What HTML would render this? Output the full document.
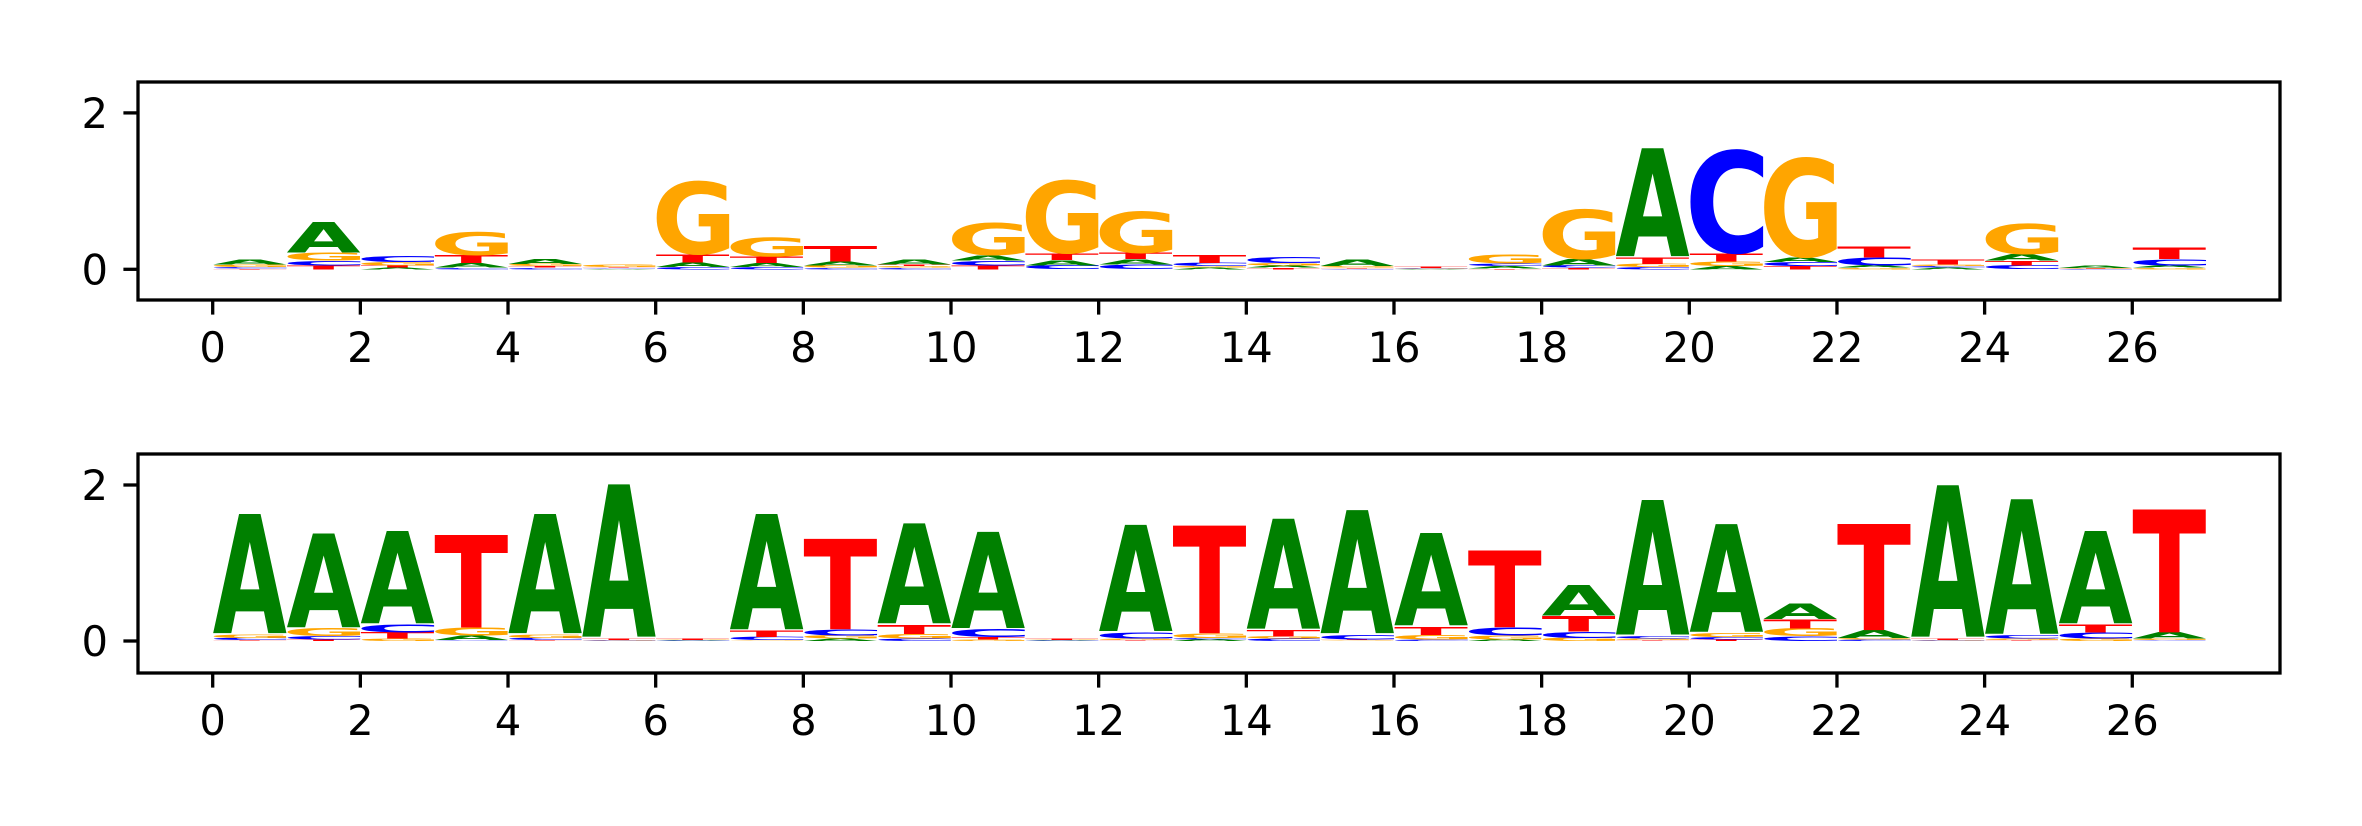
<!DOCTYPE html>
<html><head><meta charset="utf-8"><style>
html,body{margin:0;padding:0;background:#fff;}
svg{display:block;}
text{font-family:"DejaVu Sans","Liberation Sans",sans-serif;}
</style></head>
<body>
<svg id="chart" width="2362" height="826" viewBox="0 0 2362 826" xmlns="http://www.w3.org/2000/svg">
<g id="p1"></g>
<g id="p2"></g>
</svg>
<script>
const letters = ["A","C","G","T"];
const letterColors = {A:"#008000",C:"#0000ff",G:"#ffa500",T:"#ff0000"};
const xTicks = [0,2,4,6,8,10,12,14,16,18,20,22,24,26];
const yTicks = [0,2];
// per position heights [A,C,G,T]
const topA = [.07,.4,.02,.06,.07,.01,.06,.05,.05,.07,.07,.07,.07,.02,.03,.08,.005,.03,.08,1.4,.04,.06,.03,.02,.08,.03,.03];
const topC = [.02,.06,.08,.02,.02,.01,.03,.03,.02,.02,.06,.05,.06,.04,.08,.01,.005,.03,.03,.03,1.35,.05,.1,.02,.05,.005,.08];
const topG = [.03,.1,.04,.3,.03,.03,.95,.25,.03,.02,.42,.95,.55,.02,.03,.02,.005,.12,.65,.04,.06,1.3,.02,.02,.4,.005,.02];
const topT = [.01,.05,.03,.1,.02,.01,.1,.08,.2,.02,.05,.08,.08,.1,.02,.01,.02,.01,.02,.08,.1,.04,.14,.07,.06,.005,.15];
const botA = [1.55,1.22,1.2,.06,1.55,1.98,.005,1.5,.03,1.3,1.25,.005,1.38,.02,1.43,1.6,1.2,.02,.4,1.75,1.4,.2,.1,1.97,1.75,1.2,.08];
const botC = [.03,.04,.1,.01,.03,.005,.005,.04,.08,.03,.1,.005,.08,.02,.03,.06,.02,.1,.08,.03,.03,.06,.02,.005,.04,.08,.01];
const botG = [.04,.1,.03,.1,.04,.005,.005,.01,.04,.06,.02,.005,.02,.06,.03,.01,.06,.05,.04,.02,.05,.1,.02,.005,.02,.03,.02];
const botT = [.01,.02,.08,1.2,.01,.02,.02,.08,1.18,.12,.03,.02,.01,1.4,.08,.01,.1,1.0,.2,.01,.02,.12,1.38,.02,.01,.1,1.6];

const NS="http://www.w3.org/2000/svg";
const X0=212.7, XU=73.83, FL=138, FR=2280;
const xpx = v => X0 + XU*v;
const cv=document.createElement('canvas').getContext('2d');
cv.font='bold 100px "DejaVu Sans","Liberation Sans",sans-serif';
const metrics={};
letters.forEach(c=>{const m=cv.measureText(c);metrics[c]={l:-m.actualBoundingBoxLeft,r:m.actualBoundingBoxRight,a:m.actualBoundingBoxAscent,d:m.actualBoundingBoxDescent};});

function mk(tag,attrs,parent){const e=document.createElementNS(NS,tag);for(const k in attrs)e.setAttribute(k,attrs[k]);parent.appendChild(e);return e;}

function panel(g,name,top,bottom,y0,yu,A,C,G,T){
  const ypx=v=>y0-yu*v;
  for(let i=0;i<A.length;i++){
    const vals=[["A",A[i]],["C",C[i]],["G",G[i]],["T",T[i]]].sort((a,b)=>a[1]-b[1]);
    let base=0;
    vals.forEach(([c,h])=>{
      const m=metrics[c];
      const bx0=xpx(i), bx1=xpx(i+1), yb=ypx(base), yt=ypx(base+h);
      const sx=(bx1-bx0)/(m.r-m.l), sy=(yb-yt)/(m.a+m.d);
      const t=mk('text',{x:0,y:0,'font-weight':'bold','font-size':100,fill:letterColors[c],
        transform:`translate(${bx0-m.l*sx},${yb-m.d*sy}) scale(${sx},${sy})`},g);
      
      
      t.textContent=c;
      base+=h;
    });
  }
  const fr=mk('rect',{x:FL,y:top,width:FR-FL,height:bottom-top,fill:'none',stroke:'#000','stroke-width':3.3},g);
  
  
  xTicks.forEach(v=>{
    const x=xpx(v);
    const tk=mk('line',{x1:x,x2:x,y1:bottom,y2:bottom+14.6,stroke:'#000','stroke-width':3.3},g);
    
    
    const lb=mk('text',{x:x,y:bottom+62,'font-size':41.7,'text-anchor':'middle',fill:'#000'},g);
    
    
    lb.textContent=v;
  });
  yTicks.forEach(v=>{
    const y=ypx(v);
    const tk=mk('line',{x1:FL-14.6,x2:FL,y1:y,y2:y,stroke:'#000','stroke-width':3.3},g);
    
    
    const lb=mk('text',{x:FL-30,y:y+15,'font-size':41.7,'text-anchor':'end',fill:'#000'},g);
    
    
    lb.textContent=v;
  });
}
panel(document.getElementById('p1'),'top-logo',82,300,269.3,78.2,topA,topC,topG,topT);
panel(document.getElementById('p2'),'bottom-logo',454,673,641,78,botA,botC,botG,botT);
</script>
</body></html>
